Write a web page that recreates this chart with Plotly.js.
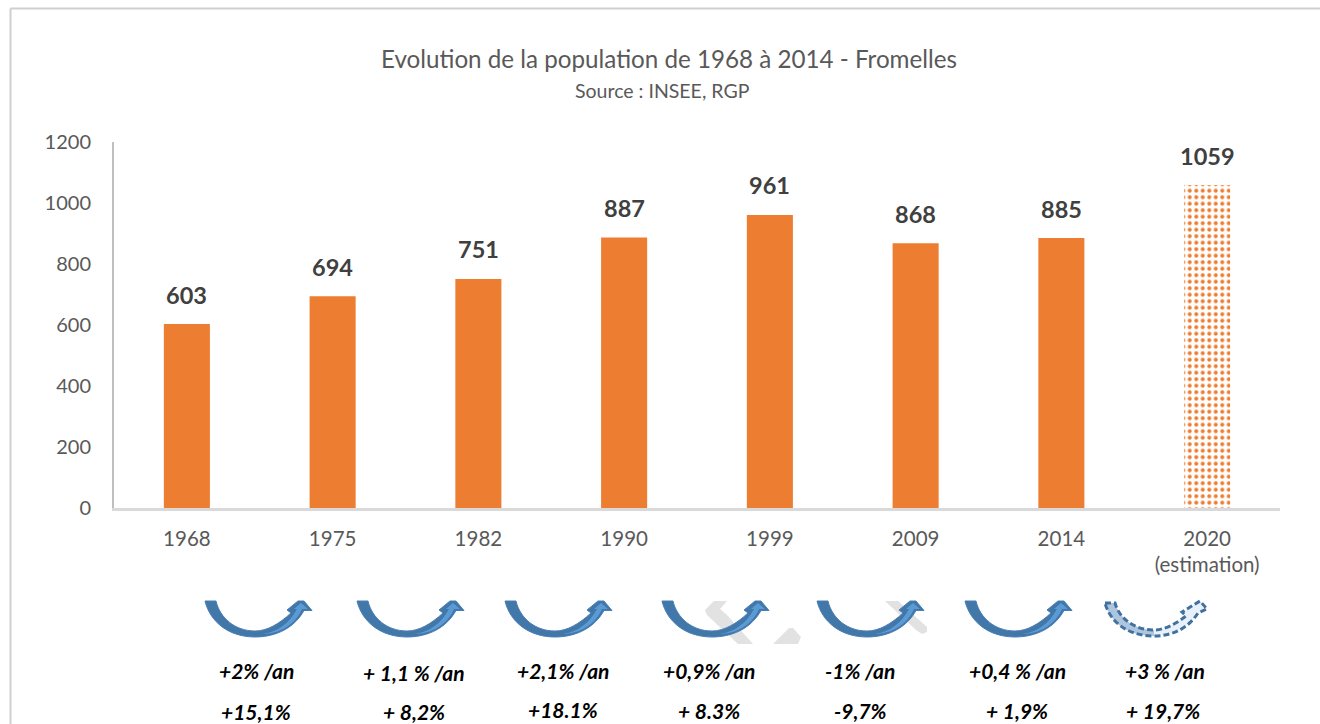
<!DOCTYPE html>
<html>
<head>
<meta charset="utf-8">
<script src="https://cdn.plot.ly/plotly-3.0.1.min.js"></script>
<style>html,body{margin:0;padding:0;background:#fff}#chart{width:1320px;height:724px}</style>
</head>
<body>
<div id="chart"></div>
<script>
// Data
const categories = ['1968','1975','1982','1990','1999','2009','2014','2020<br>(estimation)'];
const population = [603,694,751,887,961,868,885,1059];
const patternShapes = ['','','','','','','','.'];
const annualGrowth = ['+2% /an','+ 1,1 % /an','+2,1% /an','+0,9% /an','-1% /an','+0,4 % /an','+3 % /an'];
const periodGrowth = ['+15,1%','+ 8,2%','+18.1%','+ 8.3%','-9,7%','+ 1,9%','+ 19,7%'];
const yTicks = [0,200,400,600,800,1000,1200];

// Layout helpers
const W = 1320, H = 724;
const M = {l:114, r:40, t:142, b:216};
const pw = W - M.l - M.r, ph = H - M.t - M.b;
const px = x => (x - M.l) / pw;
const py = y => 1 - (y - M.t) / ph;
const poly = pts => 'M' + pts.map(p => px(p[0]).toFixed(5) + ',' + py(p[1]).toFixed(5)).join(' L') + ' Z';
function curve(x0, segs){
  return segs.map(s => s[0] + s.slice(1).map(p => px(x0 + p[0]).toFixed(5) + ',' + py(p[1]).toFixed(5)).join(' ')).join(' ') ;
}

const arrowX = [205,357,505,662,817,965,1104];
const annualX = [256,414,563,709,860,1017,1165];
const annualY = [670,672,670,670,670,670,670];
const periodX = [256,414,563,709,860,1017,1163];
const periodY = [711,711,709,710,710,710,710];

const outline = [
  ['M',[0,601]],['L',[11,601]],
  ['C',[15,618],[30,631],[50,631]],
  ['C',[62,631],[74,624],[86,613]],
  ['L',[82,610]],['L',[93,601]],['L',[99,601]],['L',[107,610.5]],['L',[99,610.5]],
  ['C',[90,627],[72,637],[50,637]],
  ['C',[24,637],[5,622],[0,601]],['Z']
];
const dashedOutline = [
  ['M',[1,603]],['L',[11,603]],
  ['C',[15,618],[30,630],[50,630]],
  ['C',[60,630],[72,624],[82,616]],
  ['L',[78,612]],['L',[96,601]],['L',[103,609]],['L',[94,613]],
  ['C',[85,627],[70,636],[50,636]],
  ['C',[24,636],[6,622],[1,603]],['Z']
];
const highlight = [
  ['M',[58,634]],
  ['C',[72,632],[84,624],[92,609]],
  ['L',[89,609]],['L',[96,603]],['L',[103,609]],['L',[97,609]],
  ['C',[90,625],[74,634],[58,634]],['Z']
];
const dashedLeft = [
  ['M',[1,603]],['L',[11,603]],
  ['C',[15,618],[30,630],[50,630]],['L',[50,636]],
  ['C',[24,636],[6,622],[1,603]],['Z']
];

const shapes = [];
// page frame
shapes.push({type:'line',xref:'paper',yref:'paper',x0:px(10.5),x1:px(1320),y0:py(8.5),y1:py(8.5),line:{color:'#cfcfcf',width:2},layer:'below'});
shapes.push({type:'line',xref:'paper',yref:'paper',x0:px(10.5),x1:px(10.5),y0:py(8.5),y1:py(724),line:{color:'#cfcfcf',width:2},layer:'below'});
// watermark
[
  [[705,610],[714,601],[727,601],[720,609],[727,615],[753,644],[738,644],[707,615]],
  [[773,644],[789,628],[793,628],[801,637],[798,644]],
  [[885,601],[898,601],[927,627],[927,632],[922,634],[916,630]]
].forEach(p => shapes.push({type:'path',xref:'paper',yref:'paper',path:poly(p),fillcolor:'#e2e2e2',line:{width:0},layer:'below'}));
// growth arrows
arrowX.forEach((x,i) => {
  const dashed = i === arrowX.length - 1;
  if(dashed) shapes.push({type:'path',xref:'paper',yref:'paper',path:curve(x,dashedLeft),fillcolor:'#7d9fc4',line:{width:0}});
  shapes.push({type:'path',xref:'paper',yref:'paper',path:curve(x,dashed ? dashedOutline : outline),
    fillcolor: dashed ? 'rgba(214,229,245,0.55)' : '#4277aa',
    line: dashed ? {color:'#41719c',width:3,dash:'6px,3px'} : {color:'#4a7fb2',width:1}});
  if(!dashed) shapes.push({type:'path',xref:'paper',yref:'paper',path:curve(x,highlight),
    fillcolor:'#5b9bd5',line:{width:0}});
});

const annotations = [];
// data labels
population.forEach((v,i) => annotations.push({
  x:i,y:v,xref:'x',yref:'y',text:'<b>'+v+'</b>',showarrow:false,xanchor:'center',yanchor:'bottom',yshift:13.5,
  font:{family:'Lato',size:23.5,color:'#404040'}
}));
// source line
annotations.push({xref:'paper',yref:'paper',x:px(662),y:py(91),xanchor:'center',yanchor:'middle',text:'Source : INSEE, RGP',showarrow:false,
  font:{family:'Lato',size:19.5,color:'#595959'}});
annualGrowth.forEach((t,i) => annotations.push({xref:'paper',yref:'paper',x:px(annualX[i]),y:py(annualY[i]),xanchor:'center',yanchor:'middle',
  text:'<b><i>'+t+'</i></b>',showarrow:false,font:{family:'Lato',size:21,color:'#000'}}));
periodGrowth.forEach((t,i) => annotations.push({xref:'paper',yref:'paper',x:px(periodX[i]),y:py(periodY[i]),xanchor:'center',yanchor:'middle',
  text:'<b><i>'+t+'</i></b>',showarrow:false,font:{family:'Lato',size:21,color:'#000'}}));

Plotly.newPlot('chart',[{
  type:'bar',
  x:categories.map((c,i)=>i),
  y:population,
  width:0.316,
  marker:{color:'#ed7d31',line:{width:0},
    pattern:{shape:patternShapes,fgcolor:'#ed7d31',bgcolor:'#ffffff',size:6.5,solidity:0.3}},
  hoverinfo:'x+y'
}],{
  width:W,height:H,
  margin:M,
  paper_bgcolor:'#fff',plot_bgcolor:'#fff',
  showlegend:false,
  title:{text:'Evolution de la population de 1968 à 2014 - Fromelles',
    x:px(669),xref:'paper',xanchor:'center',y:1-60/H,yref:'container',yanchor:'middle',
    font:{family:'Lato',size:24.2,color:'#595959'}},
  xaxis:{type:'linear',range:[-0.5,7.5],tickmode:'array',tickvals:categories.map((c,i)=>i),ticktext:categories,
    showgrid:false,zeroline:false,showline:true,linecolor:'#d9d9d9',linewidth:3,ticks:'',
    ticklabelstandoff:10,tickfont:{family:'Lato',size:20.5,color:'#595959'}},
  yaxis:{range:[0,1200],tickmode:'array',tickvals:yTicks,ticktext:yTicks.map(String),
    showgrid:false,zeroline:false,showline:true,linecolor:'#bfbfbf',linewidth:2,ticks:'',
    ticklabelstandoff:17,tickfont:{family:'Lato',size:20,color:'#595959'}},
  shapes:shapes,annotations:annotations
},{displayModeBar:false,staticPlot:true});
</script>
</body>
</html>
